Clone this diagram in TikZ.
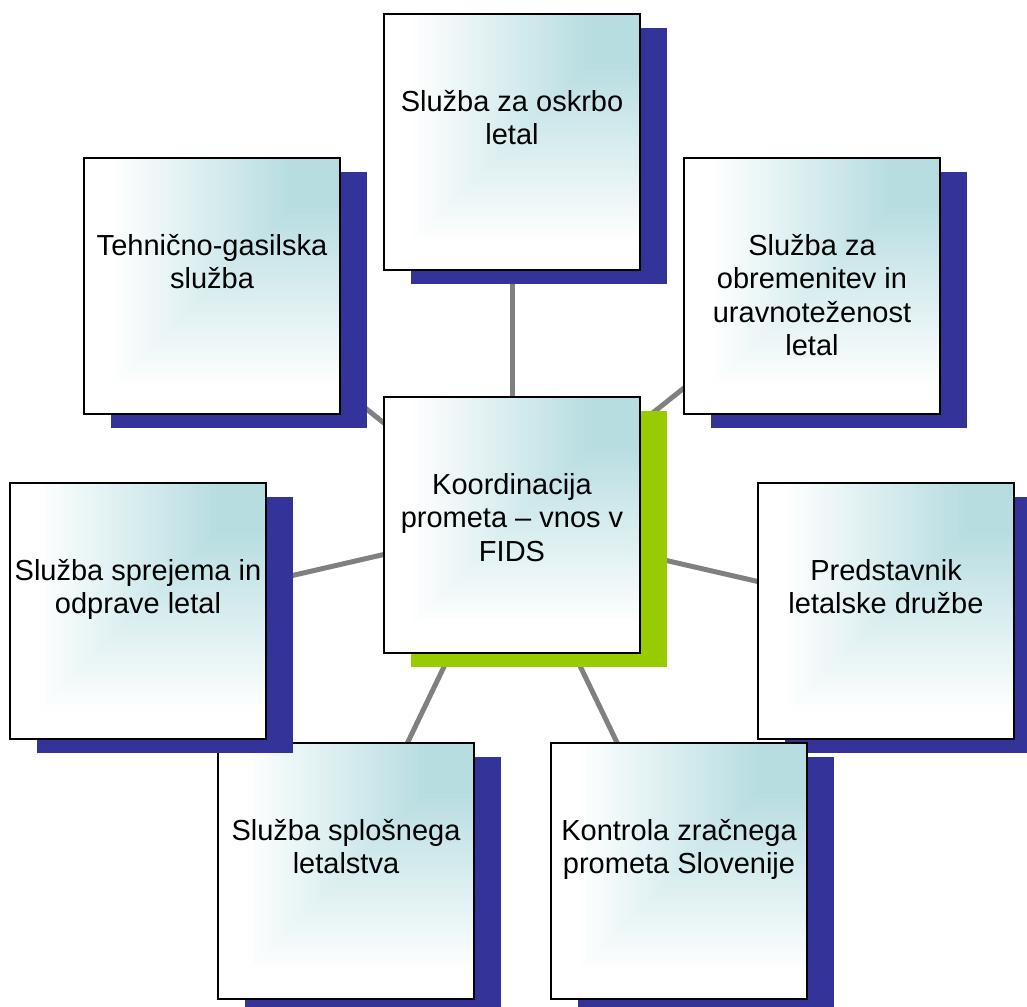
\documentclass[tikz,border=0pt]{standalone}
\usepackage{fontspec}
\setmainfont{Liberation Sans}
\definecolor{shblue}{RGB}{51,51,153}
\definecolor{shgreen}{RGB}{153,204,0}
\definecolor{tealc}{RGB}{183,221,225}
\definecolor{linegray}{RGB}{128,128,128}
\pgfdeclarelayer{bg}
\pgfsetlayers{bg,main}
\tikzset{
  boxframe/.style={draw=black, line width=1.6pt, minimum width=256pt, minimum height=256pt, inner sep=0pt, fill=none},
  boxtext/.style={anchor=north, align=center, inner sep=0pt, font=\fontsize{29}{33.5}\selectfont},
  connector/.style={draw=linegray, line width=5pt}
}
% #1 name, #2 left x, #3 top y, #4 shadow colour, #5 text
\newcommand\kbox[5]{%
  \fill[#4] (#2+27,#3+14) rectangle ++(256,256);
  \fill[white] (#2,#3) rectangle ++(256,256);
  \foreach \s in {230,227,...,50}{%
    \pgfmathsetmacro\p{100*(1-(\s-50)/180)}%
    \fill[tealc!\p!white] (#2+256,#3) rectangle ++(-\s,\s);
  }%
  \fill[tealc] (#2+256,#3) rectangle ++(-48,48);
  \node[boxframe] (#1) at (#2+128,#3+128) {};
  \node[boxtext] (#1t) at (#2+128,#3+76) {\rule{0pt}{21pt}#5};
}
\begin{document}
\begin{tikzpicture}[x=1pt,y=-1pt]
\useasboundingbox (0,0) rectangle (1027,1006);
\clip (0,0) rectangle (1027,1006);
\kbox{top}{384}{14}{shblue}{Služba za oskrbo\\letal}
\kbox{tl}{84}{158}{shblue}{Tehnično-gasilska\\služba}
\kbox{tr}{684}{158}{shblue}{Služba za\\obremenitev in\\uravnoteženost\\letal}
\kbox{center}{384}{397}{shgreen}{Koordinacija\\prometa – vnos v\\FIDS}
\kbox{right}{758}{483}{shblue}{Predstavnik\\letalske družbe}
\kbox{br}{551}{743}{shblue}{Kontrola zračnega\\prometa Slovenije}
\kbox{bl}{218}{743}{shblue}{Služba splošnega\\letalstva}
\kbox{left}{10}{483}{shblue}{Služba sprejema in\\odprave letal}
\begin{pgfonlayer}{bg}
  \foreach \n in {top,tl,tr,right,br,bl,left}{
    \draw[connector] (center.center) -- (\n.center);
  }
\end{pgfonlayer}
\end{tikzpicture}
\end{document}
